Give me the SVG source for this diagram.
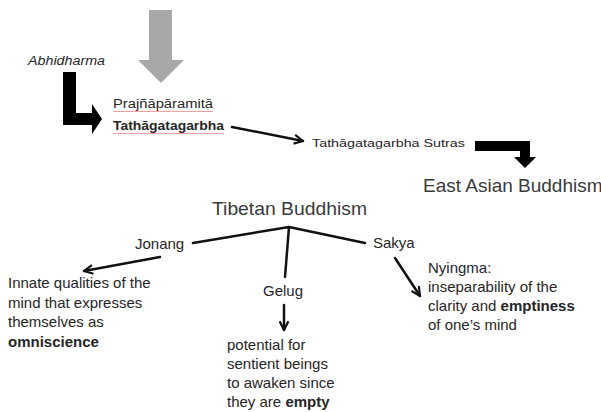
<svg xmlns="http://www.w3.org/2000/svg" width="601" height="412" viewBox="0 0 601 412">
<style>
  text { font-family: "Liberation Sans", Arial, sans-serif; fill: #262626; }
  .sm { font-size: 15px; }
  .big { font-size: 19px; fill: #3a3a3a; }
  .b { font-weight: bold; }
  .ln { stroke: #111; stroke-width: 2.5; fill: none; stroke-linecap: round; }
  .arr { stroke: #111; stroke-width: 2.5; fill: none; stroke-linecap: round; marker-end: url(#open); }
  .squig { stroke: #f4a0a0; stroke-width: 1; fill: none; }
</style>
<defs>
  <marker id="open" viewBox="0 0 10 10" refX="9" refY="5" markerWidth="11" markerHeight="11" markerUnits="userSpaceOnUse" orient="auto">
    <path d="M1,1 L9,5 L1,9" fill="none" stroke="#111" stroke-width="2"/>
  </marker>
</defs>

<!-- block arrows -->
<g id="gray-arrow">
  <polygon points="149,10 172,10 172,60 184,60 161,83 138,60 149,60" fill="#a8a8a8"/>
</g>
<g id="abhidharma-arrow">
  <polygon points="63,72 76,72 76,113 92,113 92,104 102,119 92,134 92,125 63,125" fill="#000"/>
</g>
<g id="sutras-arrow">
  <polygon points="475,141 530,141 530,157 536,157 525,168 514,157 520,157 520,151 475,151" fill="#000"/>
</g>

<!-- nodes -->
<g id="abhidharma"><text x="28" y="65" font-size="12" font-style="italic" textLength="77" lengthAdjust="spacingAndGlyphs">Abhidharma</text></g>
<g id="prajnaparamita">
  <text x="113" y="108" font-size="12" textLength="100" lengthAdjust="spacingAndGlyphs">Prajñāpāramitā</text>
  <path class="squig" d="M113,111.5 L213,111.5"/>
</g>
<g id="tathagatagarbha">
  <text x="113" y="130" font-size="12" class="b" textLength="111" lengthAdjust="spacingAndGlyphs">Tathāgatagarbha</text>
  <path class="squig" d="M113,133.5 L224,133.5"/>
</g>
<g id="sutras"><text x="312" y="147" font-size="11.5" textLength="153" lengthAdjust="spacingAndGlyphs">Tathāgatagarbha Sutras</text></g>
<g id="east-asian"><text class="big" x="423" y="192">East Asian Buddhism</text></g>
<g id="tibetan"><text class="big" x="212" y="215" textLength="155" lengthAdjust="spacingAndGlyphs">Tibetan Buddhism</text></g>
<g id="jonang"><text class="sm" x="135" y="249">Jonang</text></g>
<g id="gelug"><text class="sm" x="263" y="296">Gelug</text></g>
<g id="sakya"><text class="sm" x="373" y="248">Sakya</text></g>
<g id="jonang-desc">
  <text class="sm" x="8" y="288">Innate qualities of the</text>
  <text class="sm" x="8" y="307.5">mind that expresses</text>
  <text class="sm" x="8" y="327">themselves as</text>
  <text class="sm b" x="8" y="346.5">omniscience</text>
</g>
<g id="gelug-desc">
  <text class="sm" x="227" y="350">potential for</text>
  <text class="sm" x="227" y="369">sentient beings</text>
  <text class="sm" x="227" y="388">to awaken since</text>
  <text class="sm" x="227" y="407">they are <tspan class="b">empty</tspan></text>
</g>
<g id="nyingma-desc">
  <text class="sm" x="428" y="273">Nyingma:</text>
  <text class="sm" x="428" y="292">inseparability of the</text>
  <text class="sm" x="428" y="311">clarity and <tspan class="b">emptiness</tspan></text>
  <text class="sm" x="428" y="330">of one’s mind</text>
</g>

<!-- connectors -->
<g id="connectors">
  <line class="arr" x1="232" y1="127" x2="303" y2="141"/>
  <path class="ln" d="M289,227 L193,243 M289,227 L285,277 M289,227 L365,243"/>
  <line class="arr" x1="160" y1="257" x2="84" y2="271"/>
  <line class="arr" x1="284" y1="305" x2="284" y2="330"/>
  <line class="arr" x1="395" y1="258" x2="420" y2="296"/>
</g>
</svg>
